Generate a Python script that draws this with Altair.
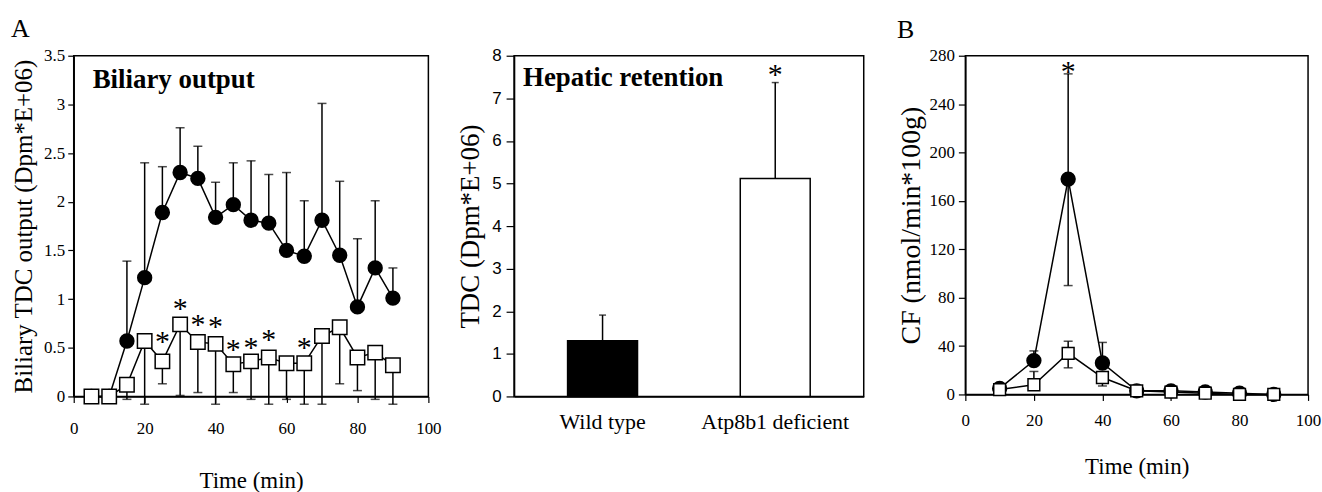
import altair as alt
import pandas as pd

SERIF = "Liberation Serif"
SANS = "Liberation Sans"

# ---------------- Panel A: biliary output ----------------
time_a = [5, 10, 15, 20, 25, 30, 35, 40, 45, 50, 55, 60, 65, 70, 75, 80, 85, 90]
wt_a = [0, 0, 0.57, 1.22, 1.89, 2.30, 2.24, 1.84, 1.97, 1.81, 1.78, 1.50, 1.44, 1.81, 1.45, 0.92, 1.32, 1.01]
wt_a_hi = [None, None, 1.39, 2.40, 2.36, 2.76, 2.57, 2.20, 2.40, 2.42, 2.28, 2.30, 2.01, 3.01, 2.21, 1.62, 2.01, 1.32]
ko_a = [0, 0, 0.12, 0.57, 0.36, 0.74, 0.56, 0.54, 0.33, 0.36, 0.40, 0.34, 0.34, 0.62, 0.71, 0.40, 0.45, 0.32]
ko_a_lo = [None, None, -0.03, -0.08, 0.13, 0.01, 0.04, -0.08, 0.04, -0.03, -0.08, -0.03, -0.08, -0.08, 0.13, 0.06, -0.03, -0.08]
star_a_t = [25, 30, 35, 40, 45, 50, 55, 65]
star_a_y = [0.63, 0.97, 0.81, 0.78, 0.55, 0.57, 0.65, 0.57]
ticks_a_x = [0, 20, 40, 60, 80, 100]
ticks_a_y = [0, 0.5, 1, 1.5, 2, 2.5, 3, 3.5]

# ---------------- Middle panel: hepatic retention ----------------
groups = ["Wild type", "Atp8b1 deficient"]
ret_mean = [1.31, 5.12]
ret_hi = [1.91, 7.37]
ret_star = [None, 7.72]
ticks_m_y = [0, 1, 2, 3, 4, 5, 6, 7, 8]

# ---------------- Panel B: CF ----------------
time_b = [10, 20, 30, 40, 50, 60, 70, 80, 90]
wt_b = [5, 28, 178, 26, 3, 3, 2, 1, 0]
wt_b_hi = [None, 36, 265, 43, None, None, None, None, None]
wt_b_lo = [None, None, 90, None, None, None, None, None, None]
ko_b = [4, 8, 34, 14, 3, 2, 1, 0, 0]
ko_b_hi = [None, 19, 44, None, None, None, None, None, None]
ko_b_lo = [None, None, 22, 7, None, None, None, None, None]
star_b_t = [30]
star_b_y = [272]
ticks_b_x = [0, 20, 40, 60, 80, 100]
ticks_b_y = [0, 40, 80, 120, 160, 200, 240, 280]

# ---------------- tables ----------------
wtA = pd.DataFrame({"t": time_a, "v": wt_a, "e": wt_a_hi})
koA = pd.DataFrame({"t": time_a, "v": ko_a, "e": ko_a_lo})
stA = pd.DataFrame({"t": star_a_t, "v": star_a_y})
midDF = pd.DataFrame({"g": groups, "v": ret_mean, "e": ret_hi, "s": ret_star})
wtB = pd.DataFrame({"t": time_b, "v": wt_b, "hi": wt_b_hi, "lo": wt_b_lo})
koB = pd.DataFrame({"t": time_b, "v": ko_b, "hi": ko_b_hi, "lo": ko_b_lo})
stB = pd.DataFrame({"t": star_b_t, "v": star_b_y})

LW = 1.5

# ---------------- Panel A ----------------
axA_x = alt.Axis(values=ticks_a_x, title="Time (min)", labelFont=SERIF, labelFontSize=17,
                 titleFont=SERIF, titleFontSize=23, tickSize=6, labelPadding=18, titlePadding=33,
                 labelFlush=False)
axA_y = alt.Axis(values=ticks_a_y, format="~g", title="Biliary TDC output (Dpm*E+06)",
                 labelFont=SERIF, labelFontSize=17, titleFont=SERIF, titleFontSize=25,
                 tickSize=6, labelPadding=3, titlePadding=7)


def xA(f="t"):
    return alt.X(f"{f}:Q", scale=alt.Scale(domain=[0, 100], nice=False, zero=False), axis=axA_x)


def yA(f="v"):
    return alt.Y(f"{f}:Q", scale=alt.Scale(domain=[0, 3.5], nice=False), axis=axA_y)


a_wt_rule = alt.Chart(wtA).transform_filter("isValid(datum.e)").mark_rule(color="black", strokeWidth=LW).encode(
    x=xA(), y=yA("v"), y2="e:Q")
a_wt_cap = alt.Chart(wtA).transform_filter("isValid(datum.e)").mark_tick(
    orient="horizontal", size=9, thickness=LW, color="black").encode(x=xA(), y=yA("e"))
a_ko_rule = alt.Chart(koA).transform_filter("isValid(datum.e)").mark_rule(color="black", strokeWidth=LW).encode(
    x=xA(), y=yA("e"), y2="v:Q")
a_ko_cap = alt.Chart(koA).transform_filter("isValid(datum.e)").mark_tick(
    orient="horizontal", size=9, thickness=LW, color="black").encode(x=xA(), y=yA("e"))
a_wt_line = alt.Chart(wtA).mark_line(color="black", strokeWidth=LW).encode(x=xA(), y=yA())
a_ko_line = alt.Chart(koA).mark_line(color="black", strokeWidth=LW).encode(x=xA(), y=yA())
a_wt_pts = alt.Chart(wtA).mark_point(shape="circle", filled=True, fill="black", stroke="black",
                                     size=180, opacity=1).encode(x=xA(), y=yA())
a_ko_pts = alt.Chart(koA).mark_point(shape="square", filled=True, fill="white", stroke="black",
                                     strokeWidth=LW, size=210, opacity=1).encode(x=xA(), y=yA())
a_stars = alt.Chart(stA).mark_text(text="*", font=SERIF, fontSize=30, baseline="middle", dy=7,
                                   color="black").encode(x=xA(), y=yA())

panelA = alt.layer(a_wt_rule, a_wt_cap, a_ko_rule, a_ko_cap, a_wt_line, a_ko_line,
                   a_wt_pts, a_ko_pts, a_stars).properties(
    width=356, height=342,
    title=alt.TitleParams("Biliary output", anchor="start", frame="group", offset=-47, dx=19,
                          font=SERIF, fontSize=27, fontWeight="bold", color="black"))

# ---------------- Middle panel ----------------
axM_x = alt.Axis(title=None, labelAngle=0, labelFont=SERIF, labelFontSize=22, ticks=False,
                 labelPadding=15, domain=True)
axM_y = alt.Axis(values=ticks_m_y, title="TDC (Dpm*E+06)", labelFont=SANS, labelFontSize=17,
                 titleFont=SERIF, titleFontSize=27, tickSize=8, labelPadding=5, titlePadding=7)


def xM():
    return alt.X("g:N", sort=groups,
                 scale=alt.Scale(domain=groups, paddingInner=0.595, paddingOuter=0.31), axis=axM_x)


def yM(f="v"):
    return alt.Y(f"{f}:Q", scale=alt.Scale(domain=[0, 8], nice=False), axis=axM_y)


m_rule = alt.Chart(midDF).mark_rule(color="black", strokeWidth=LW).encode(x=xM(), y=yM("v"), y2="e:Q")
m_cap = alt.Chart(midDF).mark_tick(orient="horizontal", size=7, thickness=LW, color="black").encode(
    x=xM(), y=yM("e"))
m_bar = alt.Chart(midDF).mark_bar(stroke="black", strokeWidth=LW).encode(
    x=xM(), y=yM("v"),
    color=alt.Color("g:N", scale=alt.Scale(domain=groups, range=["black", "white"]), legend=None))
m_star = alt.Chart(midDF).transform_filter("isValid(datum.s)").mark_text(
    text="*", font=SERIF, fontSize=30, baseline="middle", dy=7, color="black").encode(x=xM(), y=yM("s"))

panelM = alt.layer(m_rule, m_bar, m_cap, m_star).properties(
    width=351, height=342,
    title=alt.TitleParams("Hepatic retention", anchor="start", frame="group", offset=-45, dx=9,
                          font=SERIF, fontSize=27, fontWeight="bold", color="black"))

# ---------------- Panel B ----------------
axB_x = alt.Axis(values=ticks_b_x, title="Time (min)", labelFont=SERIF, labelFontSize=17,
                 titleFont=SERIF, titleFontSize=23, tickSize=6, labelPadding=12, titlePadding=27,
                 labelFlush=False)
axB_y = alt.Axis(values=ticks_b_y, title="CF (nmol/min*100g)", labelFont=SERIF, labelFontSize=17,
                 titleFont=SERIF, titleFontSize=28, tickSize=7, labelPadding=4, titlePadding=4)


def xB(f="t"):
    return alt.X(f"{f}:Q", scale=alt.Scale(domain=[0, 100], nice=False, zero=False), axis=axB_x)


def yB(f="v"):
    return alt.Y(f"{f}:Q", scale=alt.Scale(domain=[0, 280], nice=False), axis=axB_y)


def err_b(df):
    up = alt.Chart(df).transform_filter("isValid(datum.hi)")
    dn = alt.Chart(df).transform_filter("isValid(datum.lo)")
    return [
        up.mark_rule(color="black", strokeWidth=LW).encode(x=xB(), y=yB("v"), y2="hi:Q"),
        up.mark_tick(orient="horizontal", size=9, thickness=LW, color="black").encode(x=xB(), y=yB("hi")),
        dn.mark_rule(color="black", strokeWidth=LW).encode(x=xB(), y=yB("lo"), y2="v:Q"),
        dn.mark_tick(orient="horizontal", size=9, thickness=LW, color="black").encode(x=xB(), y=yB("lo")),
    ]


b_wt_line = alt.Chart(wtB).mark_line(color="black", strokeWidth=LW).encode(x=xB(), y=yB())
b_ko_line = alt.Chart(koB).mark_line(color="black", strokeWidth=LW).encode(x=xB(), y=yB())
b_wt_pts = alt.Chart(wtB).mark_point(shape="circle", filled=True, fill="black", stroke="black",
                                     size=180, opacity=1).encode(x=xB(), y=yB())
b_ko_pts = alt.Chart(koB).mark_point(shape="square", filled=True, fill="white", stroke="black",
                                     strokeWidth=LW, size=140, opacity=1).encode(x=xB(), y=yB())
b_star = alt.Chart(stB).mark_text(text="*", font=SERIF, fontSize=30, baseline="middle", dy=7,
                                  color="black").encode(x=xB(), y=yB())

panelB = alt.layer(*err_b(wtB), *err_b(koB), b_wt_line, b_ko_line, b_wt_pts, b_ko_pts, b_star).properties(
    width=344, height=340,
    title=alt.TitleParams("B", anchor="start", font=SERIF, fontSize=26, fontWeight="normal",
                          color="black", offset=4))

groupA = alt.hconcat(panelA, panelM, spacing=13).properties(
    title=alt.TitleParams("A", anchor="start", font=SERIF, fontSize=26, fontWeight="normal",
                          color="black", offset=4))

chart = alt.hconcat(groupA, panelB, spacing=31).properties(
    padding={"left": 11, "top": 15, "right": 0, "bottom": 0},
    background="white",
).configure_view(stroke="black", strokeWidth=LW).configure_axis(
    domainColor="black", tickColor="black", labelColor="black", titleColor="black",
    grid=False, titleFontWeight="normal", domainWidth=LW, tickWidth=1.2)

chart.save("out.html", embed_options={"renderer": "svg", "actions": False})
